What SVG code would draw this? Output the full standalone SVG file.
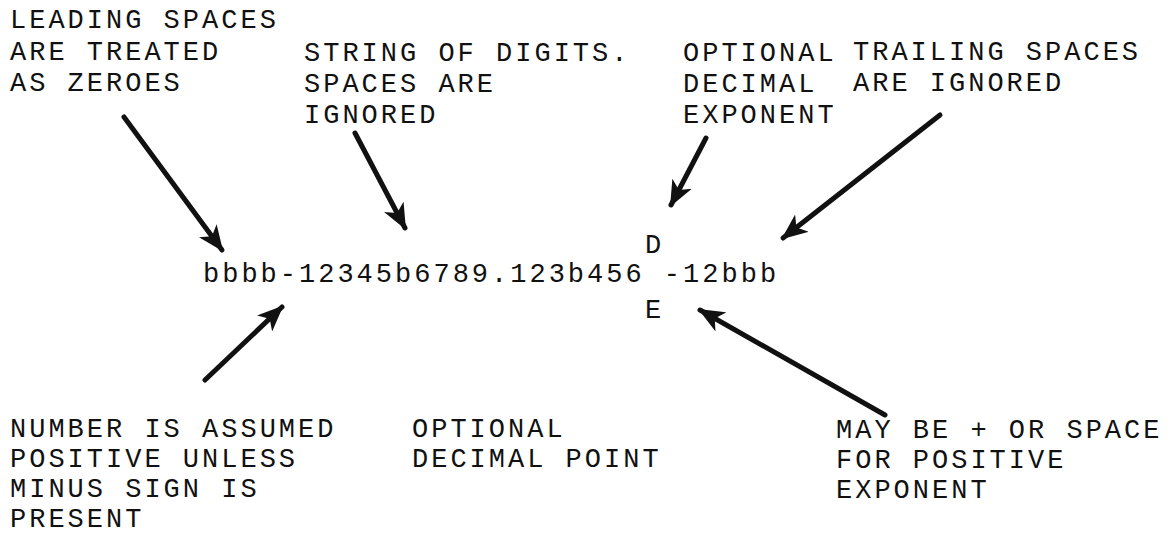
<svg xmlns="http://www.w3.org/2000/svg" width="1173" height="540" viewBox="0 0 1173 540">
<style>
text{font-family:"Liberation Mono","DejaVu Sans Mono",monospace;font-size:27px;letter-spacing:3px;fill:#111}
.arr{stroke:#111;stroke-width:5;fill:none;stroke-linecap:round}
</style>
<defs>
<marker id="ah" viewBox="0 0 26 22" refX="24" refY="11" markerWidth="26" markerHeight="22" markerUnits="userSpaceOnUse" orient="auto">
<path d="M0,0 L26,11 L0,22 L7,11 Z" fill="#111"/>
</marker>
</defs>
<rect width="1173" height="540" fill="#fff"/>
<g id="leading">
<text x="10" y="28">LEADING SPACES</text>
<text x="10" y="60">ARE TREATED</text>
<text x="10" y="91">AS ZEROES</text>
</g>
<g id="digits">
<text x="304" y="61">STRING OF DIGITS.</text>
<text x="304" y="92">SPACES ARE</text>
<text x="304" y="123">IGNORED</text>
</g>
<g id="exponent">
<text x="683" y="61">OPTIONAL</text>
<text x="683" y="92">DECIMAL</text>
<text x="683" y="123">EXPONENT</text>
</g>
<g id="trailing">
<text x="853" y="60">TRAILING SPACES</text>
<text x="853" y="91">ARE IGNORED</text>
</g>
<g id="number">
<text x="203" y="282">bbbb-12345b6789.123b456 -12bbb</text>
<text x="645" y="253">D</text>
<text x="645" y="318">E</text>
</g>
<g id="positive">
<text x="10" y="437">NUMBER IS ASSUMED</text>
<text x="10" y="467">POSITIVE UNLESS</text>
<text x="10" y="497">MINUS SIGN IS</text>
<text x="10" y="527">PRESENT</text>
</g>
<g id="point">
<text x="412" y="437">OPTIONAL</text>
<text x="412" y="467">DECIMAL POINT</text>
</g>
<g id="sign">
<text x="836" y="438">MAY BE + OR SPACE</text>
<text x="836" y="468">FOR POSITIVE</text>
<text x="836" y="498">EXPONENT</text>
</g>
<g id="connectors">
<line class="arr" x1="124" y1="117" x2="222" y2="250" marker-end="url(#ah)"/>
<line class="arr" x1="355" y1="133" x2="405" y2="228" marker-end="url(#ah)"/>
<line class="arr" x1="706" y1="138" x2="671" y2="205" marker-end="url(#ah)"/>
<line class="arr" x1="940" y1="115" x2="783" y2="238" marker-end="url(#ah)"/>
<line class="arr" x1="205" y1="380" x2="282" y2="307" marker-end="url(#ah)"/>
<line class="arr" x1="885" y1="415" x2="700" y2="310" marker-end="url(#ah)"/>
</g>
</svg>
